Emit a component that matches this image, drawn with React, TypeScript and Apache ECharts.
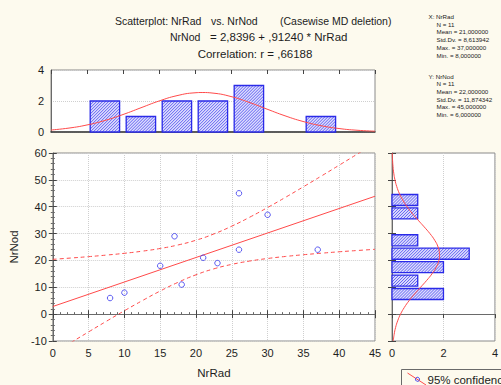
import React, { useEffect, useRef } from "react";
import * as echarts from "echarts";

// Raw data (NrRad, NrNod)
const nrRad = [8, 10, 15, 17, 18, 21, 23, 26, 26, 30, 37];
const nrNod = [6, 8, 18, 29, 11, 21, 19, 45, 24, 37, 24];

// Histogram of NrRad (top)
const radBinStart = [5, 10, 15, 20, 25, 30, 35];
const radBinEnd = [10, 15, 20, 25, 30, 35, 40];
const radCounts = [2, 1, 2, 2, 3, 0, 1];

// Histogram of NrNod (right)
const nodBinStart = [5, 10, 15, 20, 25, 30, 35, 40];
const nodBinEnd = [10, 15, 20, 25, 30, 35, 40, 45];
const nodCounts = [2, 1, 2, 3, 1, 0, 1, 1];

// Regression line end points (read from the stated equation)
const fitX = [0, 45];
const fitY = [2.84, 43.9];

// 95% confidence band
const bandX = [0, 2.5, 5, 7.5, 10, 12.5, 15, 17.5, 20, 22.5, 25, 27.5, 30, 32.5, 35, 37.5, 40, 42.5, 45];
const bandUpper = [20.41, 20.89, 21.41, 21.99, 22.65, 23.45, 24.45, 25.76, 27.53, 29.87, 32.77, 36.09, 39.7, 43.5, 47.42, 51.41, 55.46, 59.55, 63.66];
const bandLower = [-14.73, -10.65, -6.61, -2.63, 1.27, 5.03, 8.61, 11.86, 14.65, 16.87, 18.53, 19.77, 20.72, 21.48, 22.12, 22.69, 23.22, 23.69, 24.14];

// Normal curve over the top histogram
const normTopX = [0, 2.5, 5, 7.5, 10, 12.5, 15, 17.5, 20, 21, 22.5, 25, 27.5, 30, 32.5, 35, 37.5, 40, 42.5, 45];
const normTopY = [0.13, 0.254, 0.454, 0.746, 1.127, 1.565, 1.998, 2.345, 2.53, 2.547, 2.509, 2.287, 1.916, 1.476, 1.045, 0.68, 0.407, 0.224, 0.113, 0.053];

// Normal curve over the right histogram
const normRightY = [-10, -7.5, -5, -2.5, 0, 2.5, 5, 7.5, 10, 12.5, 15, 17.5, 20, 22, 22.5, 25, 27.5, 30, 32.5, 35, 37.5, 40, 42.5, 45, 47.5, 50, 52.5, 55, 57.5, 60];
const normRightX = [0.049, 0.084, 0.139, 0.22, 0.332, 0.48, 0.663, 0.877, 1.109, 1.342, 1.553, 1.72, 1.822, 1.848, 1.846, 1.79, 1.66, 1.473, 1.25, 1.015, 0.788, 0.586, 0.416, 0.283, 0.184, 0.115, 0.068, 0.039, 0.021, 0.011];

// Texts
const titleLine1 = ["Scatterplot: NrRad", "vs. NrNod", "(Casewise MD deletion)"];
const titleLine2 = ["NrNod", "= 2,8396 + ,91240 * NrRad"];
const titleLine3 = "Correlation: r = ,66188";
const statsX = ["X: NrRad", "N = 11", "Mean = 21,000000", "Std.Dv. = 8,613942", "Max. = 37,000000", "Min. = 8,000000"];
const statsY = ["Y: NrNod", "N = 11", "Mean = 22,000000", "Std.Dv. = 11,874342", "Max. = 45,000000", "Min. = 6,000000"];
const legendText = "95% confidence";

const FONT = "'Liberation Sans', Arial, sans-serif";
const RED = "#ff4a4a";
const BLUE = "#3434ee";
const BG = "#fdfaee";

function hatchRect(x0: number, y0: number, x1: number, y1: number) {
  const children: any[] = [];
  children.push({
    type: "rect",
    shape: { x: x0, y: y0, width: x1 - x0, height: y1 - y0 },
    style: { fill: "#dcdcfd" },
  });
  const step = 3;
  for (let c = x0 + y0 + 1; c < x1 + y1; c += step) {
    const xa = Math.max(x0, c - y1);
    const xb = Math.min(x1, c - y0);
    if (xa < xb) {
      children.push({
        type: "line",
        shape: { x1: xa, y1: c - xa, x2: xb, y2: c - xb },
        style: { stroke: "#6262f2", lineWidth: 1 },
      });
    }
  }
  children.push({
    type: "rect",
    shape: { x: x0, y: y0, width: x1 - x0, height: y1 - y0 },
    style: { fill: "none", stroke: "#2a2ae8", lineWidth: 1.3 },
  });
  return { type: "group", children };
}

export default function App() {
  const ref = useRef<HTMLDivElement>(null);
  useEffect(() => {
    if (!ref.current) return;
    const chart = echarts.init(ref.current, null, { renderer: "svg" });

    const topHistData = radBinStart.map((s, i) => [s, radBinEnd[i], radCounts[i]]);
    const rightHistData = nodBinStart.map((s, i) => [s, nodBinEnd[i], nodCounts[i]]);
    const scatterData = nrRad.map((x, i) => [x, nrNod[i]]);

    const labelStyle = { color: "#1e1e1e", fontSize: 11, fontFamily: FONT };
    const dotted = { show: true, lineStyle: { color: "#cfcfcf", type: "dotted" as const, width: 1 } };
    const lineAx = { show: true, lineStyle: { color: "#6a6a6a", width: 1 } };
    const tickIn = { show: true, inside: true, length: 4, lineStyle: { color: "#444" } };
    const minorIn = { show: true, splitNumber: 5, length: 2, lineStyle: { color: "#666" } };

    const graphics: any[] = [];
    const t = (text: string, x: number, y: number, size: number, align = "left") => ({
      type: "text",
      x,
      y,
      silent: true,
      style: { text, fontSize: size, fontFamily: FONT, fill: "#1c1c1c", align, verticalAlign: "middle" },
    });
    graphics.push(t(titleLine1[0], 115, 21, 10.5));
    graphics.push(t(titleLine1[1], 211, 21, 10.5));
    graphics.push(t(titleLine1[2], 280, 21, 10.5));
    graphics.push(t(titleLine2[0], 170, 37, 10.5));
    graphics.push(t(titleLine2[1], 210, 37, 11.5));
    graphics.push(t(titleLine3, 255, 53.5, 11.5, "center"));
    statsX.forEach((s, i) => graphics.push(t(s, i === 0 ? 428.5 : 436.5, 16.5 + i * 7.7, 6.2)));
    statsY.forEach((s, i) => graphics.push(t(s, i === 0 ? 428.5 : 436.5, 76.3 + i * 7.6, 6.2)));
    // legend box
    graphics.push({
      type: "rect",
      silent: true,
      shape: { x: 401.5, y: 369.5, width: 130, height: 30 },
      style: { fill: BG, stroke: "#6a6a6a", lineWidth: 1 },
    });
    graphics.push({
      type: "line",
      silent: true,
      shape: { x1: 407.5, y1: 373, x2: 426, y2: 385 },
      style: { stroke: RED, lineWidth: 1 },
    });
    graphics.push({
      type: "circle",
      silent: true,
      shape: { cx: 417.5, cy: 379.3, r: 2 },
      style: { fill: "none", stroke: BLUE, lineWidth: 1 },
    });
    graphics.push(t(legendText, 427.5, 379.5, 11.5));

    chart.setOption({
      animation: false,
      backgroundColor: BG,
      textStyle: { fontFamily: FONT },
      grid: [
        { left: 51, top: 70, width: 324, height: 62, show: true, backgroundColor: "#fff", borderColor: "#8a8a8a", borderWidth: 1 },
        { left: 51, top: 153, width: 324, height: 188, show: true, backgroundColor: "#fff", borderColor: "#8a8a8a", borderWidth: 1 },
        { left: 392, top: 153, width: 106, height: 188, show: true, backgroundColor: "#fff", borderColor: "#8a8a8a", borderWidth: 1 },
      ],
      xAxis: [
        { gridIndex: 0, type: "value", min: 0, max: 45, interval: 5, position: "bottom", axisLabel: { show: false }, axisTick: { show: false }, axisLine: { show: true, lineStyle: { color: "#3a3a3a", width: 1.5 } }, splitLine: { show: false } },
        { gridIndex: 0, type: "value", min: 0, max: 45, interval: 5, position: "top", axisLabel: { show: false }, axisTick: tickIn, axisLine: { show: false }, splitLine: { show: false } },
        { gridIndex: 1, type: "value", min: 0, max: 45, interval: 5, position: "bottom", axisLabel: { ...labelStyle, margin: 6 }, axisTick: tickIn, minorTick: minorIn, axisLine: lineAx, splitLine: dotted, name: "NrRad", nameLocation: "middle", nameGap: 26, nameTextStyle: { ...labelStyle, fontSize: 11.5 } },
        { gridIndex: 1, type: "value", min: 0, max: 45, interval: 5, position: "top", axisLabel: { show: false }, axisTick: tickIn, axisLine: { show: false }, splitLine: { show: false } },
        { gridIndex: 2, type: "value", min: 0, max: 4, interval: 2, position: "bottom", axisLabel: { ...labelStyle, margin: 6 }, axisTick: { show: false }, axisLine: lineAx, splitLine: dotted },
        { gridIndex: 2, type: "value", min: 0, max: 4, interval: 2, position: "top", axisLabel: { show: false }, axisTick: tickIn, axisLine: { show: false }, splitLine: { show: false } },
      ],
      yAxis: [
        { gridIndex: 0, type: "value", min: 0, max: 4, interval: 2, position: "left", axisLabel: { ...labelStyle, margin: 7 }, axisTick: { show: false }, axisLine: lineAx, splitLine: dotted },
        { gridIndex: 1, type: "value", min: -10, max: 60, interval: 10, position: "left", axisLabel: { ...labelStyle, margin: 6 }, axisTick: tickIn, minorTick: minorIn, axisLine: lineAx, splitLine: dotted, name: "NrNod", nameLocation: "middle", nameGap: 25, nameTextStyle: { ...labelStyle, fontSize: 11.5 } },
        { gridIndex: 1, type: "value", min: -10, max: 60, interval: 10, position: "right", axisLabel: { show: false }, axisTick: tickIn, minorTick: minorIn, axisLine: { show: false }, splitLine: { show: false } },
        { gridIndex: 2, type: "value", min: -10, max: 60, interval: 10, position: "left", axisLabel: { show: false }, axisTick: tickIn, axisLine: lineAx, splitLine: { show: false } },
        { gridIndex: 2, type: "value", min: -10, max: 60, interval: 10, position: "right", axisLabel: { show: false }, axisTick: tickIn, axisLine: { show: false }, splitLine: { show: false } },
      ],
      graphic: graphics,
      series: [
        {
          type: "custom",
          xAxisIndex: 0,
          yAxisIndex: 0,
          silent: true,
          encode: { x: [0, 1], y: 2 },
          data: topHistData,
          renderItem: (params: any, api: any) => {
            const s = api.value(0), e = api.value(1), c = api.value(2);
            if (!c) return null;
            const p0 = api.coord([s, c]);
            const p1 = api.coord([e, 0]);
            return hatchRect(p0[0] + 3.2, p0[1], p1[0] - 3.4, p1[1]);
          },
          z: 2,
        },
        {
          type: "line",
          xAxisIndex: 0,
          yAxisIndex: 0,
          silent: true,
          smooth: true,
          showSymbol: false,
          lineStyle: { color: RED, width: 1 },
          data: normTopX.map((x, i) => [x, normTopY[i]]),
          z: 3,
        },
        {
          type: "custom",
          xAxisIndex: 4,
          yAxisIndex: 3,
          silent: true,
          encode: { x: 2, y: [0, 1] },
          data: rightHistData,
          renderItem: (params: any, api: any) => {
            const s = api.value(0), e = api.value(1), c = api.value(2);
            if (!c) return null;
            const p0 = api.coord([0, e]);
            const p1 = api.coord([c, s]);
            return hatchRect(p0[0], p0[1] + 1.2, p1[0], p1[1] - 1.2);
          },
          z: 2,
        },
        {
          type: "line",
          xAxisIndex: 4,
          yAxisIndex: 3,
          silent: true,
          smooth: true,
          showSymbol: false,
          lineStyle: { color: RED, width: 1 },
          data: normRightY.map((y, i) => [normRightX[i], y]),
          z: 3,
        },
        {
          type: "line",
          xAxisIndex: 2,
          yAxisIndex: 1,
          silent: true,
          showSymbol: false,
          lineStyle: { color: RED, width: 1 },
          data: fitX.map((x, i) => [x, fitY[i]]),
          z: 3,
        },
        {
          type: "line",
          xAxisIndex: 2,
          yAxisIndex: 1,
          silent: true,
          smooth: true,
          showSymbol: false,
          clip: true,
          lineStyle: { color: RED, width: 1, type: [4, 3] },
          data: bandX.map((x, i) => [x, bandUpper[i]]),
          z: 3,
        },
        {
          type: "line",
          xAxisIndex: 2,
          yAxisIndex: 1,
          silent: true,
          smooth: true,
          showSymbol: false,
          clip: true,
          lineStyle: { color: RED, width: 1, type: [4, 3] },
          data: bandX.map((x, i) => [x, bandLower[i]]),
          z: 3,
        },
        {
          type: "scatter",
          xAxisIndex: 2,
          yAxisIndex: 1,
          silent: true,
          symbol: "circle",
          symbolSize: 5.5,
          itemStyle: { color: "rgba(255,255,255,0)", borderColor: BLUE, borderWidth: 1 },
          data: scatterData,
          z: 4,
        },
      ],
    });
    return () => chart.dispose();
  }, []);
  return (
    <div
      ref={ref}
      style={{ position: "fixed", left: 0, top: 0, width: 501, height: 385 }}
    />
  );
}
